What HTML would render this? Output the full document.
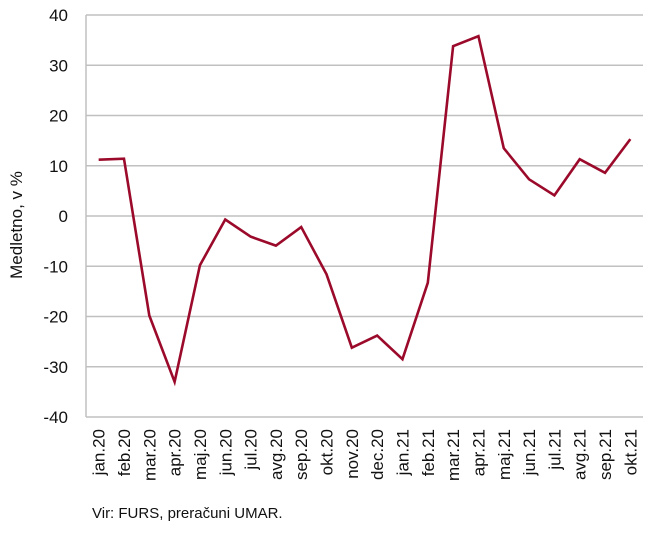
<!DOCTYPE html>
<html><head><meta charset="utf-8"><style>
body{margin:0;background:#fff;width:650px;height:532px;overflow:hidden}
svg text{font-family:"Liberation Sans",sans-serif;fill:#111}
</style></head><body>
<svg id="c" width="650" height="532"></svg>
<script>
const categories=["jan.20","feb.20","mar.20","apr.20","maj.20","jun.20","jul.20","avg.20","sep.20","okt.20","nov.20","dec.20","jan.21","feb.21","mar.21","apr.21","maj.21","jun.21","jul.21","avg.21","sep.21","okt.21"];
const values=[11.2,11.4,-19.8,-33,-9.8,-0.7,-4.1,-5.9,-2.2,-11.6,-26.2,-23.8,-28.5,-13.3,33.8,35.8,13.5,7.3,4.1,11.3,8.6,15.3];
const yTicks=[40,30,20,10,0,-10,-20,-30,-40];
const NS="http://www.w3.org/2000/svg",svg=document.getElementById("c");
const L=86,R=643,T=15,B=417,band=(R-L)/categories.length;
const x=i=>L+band*(i+0.5), y=v=>T+(40-v)/80*(B-T);
function mk(t,a,p){const e=document.createElementNS(NS,t);for(const k in a)e.setAttribute(k,a[k]);(p||svg).appendChild(e);return e;}
yTicks.forEach(v=>{
 const g=mk("line",{x1:L,x2:R,y1:y(v),y2:y(v),stroke:"#c0c0c0","stroke-width":1.5});
 
 
 const t=mk("text",{x:68,y:y(v)+6,"text-anchor":"end","font-size":17});t.textContent=v;
 
 
});
const ax=mk("line",{x1:L,x2:L,y1:T,y2:B,stroke:"#c0c0c0","stroke-width":1.5});


categories.forEach((c,i)=>{
 const t=mk("text",{transform:`translate(${x(i)+6},${B+12}) rotate(-90)`,"text-anchor":"end","font-size":17});t.textContent=c;
 
 
});
const p=mk("polyline",{points:values.map((v,i)=>x(i)+","+y(v)).join(" "),fill:"none",stroke:"#9b0a2a","stroke-width":2.6,"stroke-linejoin":"miter"});


const yt=mk("text",{transform:`translate(22,225) rotate(-90)`,"text-anchor":"middle","font-size":17});yt.textContent="Medletno, v %";


const src=mk("text",{x:92,y:518,"font-size":15});src.textContent="Vir: FURS, preračuni UMAR.";


</script>
</body></html>
